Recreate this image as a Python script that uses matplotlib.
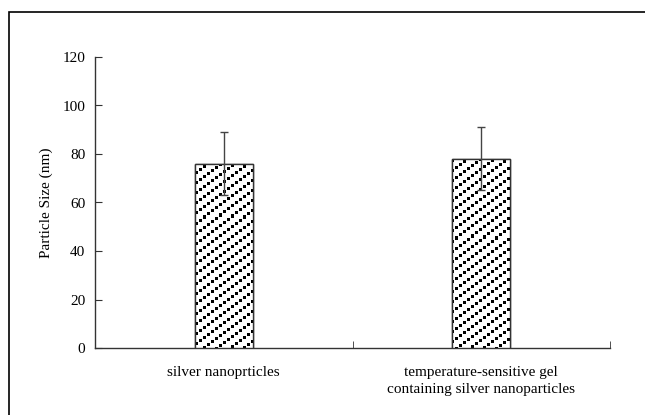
import numpy as np
import matplotlib
matplotlib.use("Agg")
import matplotlib.pyplot as plt
from matplotlib.patches import Rectangle
from matplotlib.ticker import FixedLocator

categories = ["silver nanoprticles",
              "temperature-sensitive gel\ncontaining silver nanoparticles"]
sizes = [76, 78]
errors = [13, 13]

plt.rcParams['font.family'] = ['Liberation Serif', 'DejaVu Serif']

W, H = 645, 415
fig = plt.figure(figsize=(W / 100, H / 100), dpi=100)
ax_box = [95, 67, 515, 291]  # left, bottom, width, height in pixels
ax = fig.add_axes([ax_box[0] / W, ax_box[1] / H, ax_box[2] / W, ax_box[3] / H])

# outer frame, open at right and bottom like the original
fig.patches.append(Rectangle((9 / W, -0.1), 1.2, (H - 12) / H + 0.1,
                             transform=fig.transFigure, fill=False,
                             edgecolor='black', linewidth=1.2))

xlim = (-0.5, 1.5)
ylim = (0, 120)

# pixel fill: diagonal rows of small black squares climbing to the right
pw, ph = ax_box[2], ax_box[3]
rr, cc = np.mgrid[0:ph, 0:pw]
texture = np.where((cc % 4 < 3) & ((rr + 3 * (cc // 4)) % 10 < 3), 0.0, 1.0)

x = np.arange(len(categories))
w = 0.225
bars = ax.bar(x, sizes, w, color='white', edgecolor='#333333', linewidth=1.0, zorder=2)
for b in bars:
    im = ax.imshow(texture, cmap='gray', vmin=0, vmax=1, extent=(*xlim, *ylim),
                   aspect='auto', interpolation='nearest', zorder=3)
    im.set_clip_path(b)
ax.bar(x, sizes, w, color='none', edgecolor='#333333', linewidth=1.0, zorder=4)
ax.errorbar(x, sizes, yerr=errors, fmt='none', ecolor='#444444',
            elinewidth=1.0, capsize=3, capthick=1.0, zorder=5)

ax.set_xlim(*xlim)
ax.set_ylim(*ylim)
ax.set_yticks(range(0, 121, 20))
ax.set_xticks(x)
ax.set_xticklabels(categories, fontsize=11, linespacing=1.35)
ax.xaxis.set_minor_locator(FixedLocator([0.5, 1.5]))
ax.tick_params(axis='x', which='major', length=0, pad=13)
ax.tick_params(axis='x', which='minor', direction='in', length=5, color='#333333')
ax.tick_params(axis='y', direction='in', length=5, labelsize=11, color='#333333', pad=7)
ax.set_ylabel("Particle Size (nm)", fontsize=11, labelpad=7)

for s in ['top', 'right']:
    ax.spines[s].set_visible(False)
for s in ['left', 'bottom']:
    ax.spines[s].set_color('#333333')
    ax.spines[s].set_linewidth(1.0)

plt.savefig("out.png", dpi=100)
